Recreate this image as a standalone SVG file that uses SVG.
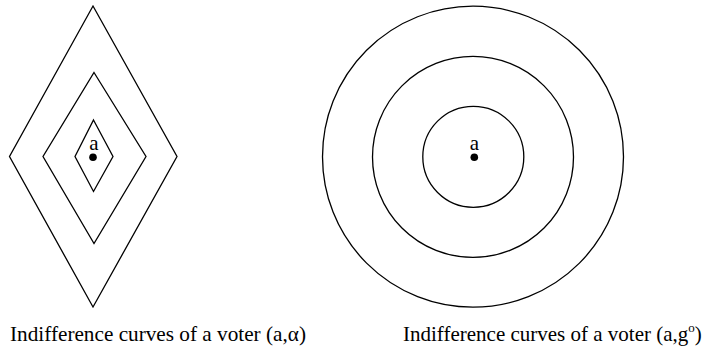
<svg xmlns="http://www.w3.org/2000/svg" width="708" height="350" viewBox="0 0 708 350">
<style>
.curve{fill:none;stroke:#000;stroke-width:1.3}
.dot{fill:#000}
.lbl{font-family:"Liberation Serif","Times New Roman",serif;fill:#000}
.cap{font-size:21px}
.pt{font-size:21px}
</style>
<rect width="708" height="350" fill="#fff"/>
<g id="diamonds">
<polygon class="curve" points="93,6 177,156.5 93,307 9.5,156.5"/>
<polygon class="curve" points="94,72.5 146,156.5 94,243.5 43,156.5"/>
<polygon class="curve" points="93.5,120 113,156.5 93.5,191.5 75,156.5"/>
<circle class="dot" cx="93" cy="157.3" r="3.8"/>
<text class="lbl pt" x="94" y="149.5" text-anchor="middle">a</text>
</g>
<g id="circles">
<circle class="curve" cx="473" cy="156.7" r="150.5"/>
<circle class="curve" cx="473" cy="156.9" r="100.5"/>
<circle class="curve" cx="473.3" cy="156.8" r="50.5"/>
<circle class="dot" cx="474.3" cy="157.3" r="3.8"/>
<text class="lbl pt" x="474.3" y="149.5" text-anchor="middle">a</text>
</g>
<g id="captions">
<text class="lbl cap" x="10" y="341" textLength="296" lengthAdjust="spacingAndGlyphs">Indifference curves of a voter (a,α)</text>
<text class="lbl cap" x="403" y="341">Indifference curves of a voter (a,g<tspan font-size="13" dy="-9">o</tspan><tspan dy="9">)</tspan></text>
</g>
</svg>
